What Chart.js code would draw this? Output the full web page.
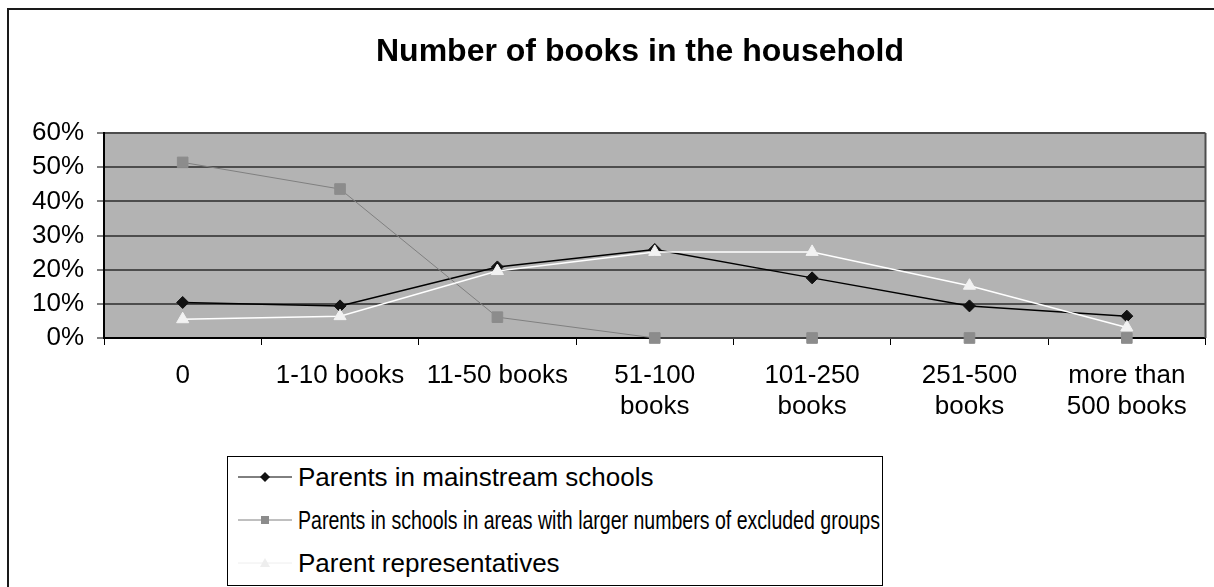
<!DOCTYPE html>
<html>
<head>
<meta charset="utf-8">
<title>Number of books in the household</title>
<script src="https://cdn.jsdelivr.net/npm/chart.js@4.4.0/dist/chart.umd.min.js"></script>
<style>
    html, body { margin: 0; padding: 0; background: #fff; overflow: hidden; }
    #wrap { position: relative; width: 1214px; height: 587px; overflow: hidden; }
    #frame { position: absolute; left: 7px; top: 8px; width: 1500px; height: 800px; border: 2px solid #1a1a1a; }
    #chart { position: absolute; left: 0; top: 0; }
    #legend {
        position: absolute; left: 227px; top: 456px; width: 656px; height: 130px;
        box-sizing: border-box; border: 1px solid #000; background: #fff;
        font: 26px "Liberation Sans", Arial, sans-serif; color: #000;
    }
    .legend-row { position: absolute; left: 10px; height: 30px; display: flex; align-items: center; white-space: nowrap; }
    .legend-row svg { margin-right: 4px; flex: none; }
    .legend-row span { display: inline-block; transform-origin: left center; }
</style>
</head>
<body>
<div id="wrap">
    <div id="frame"></div>
    <canvas id="chart" width="1214" height="587"></canvas>
    <div id="legend"></div>
</div>
<script>
// Data (percent of respondents)
const categories = [
    ['0'],
    ['1-10 books'],
    ['11-50 books'],
    ['51-100', 'books'],
    ['101-250', 'books'],
    ['251-500', 'books'],
    ['more than', '500 books']
];
const seriesNames = [
    'Parents in mainstream schools',
    'Parents in schools in areas with larger numbers of excluded groups',
    'Parent representatives'
];
const mainstreamValues = [10.4, 9.4, 20.8, 25.9, 17.6, 9.4, 6.4];
const excludedAreasValues = [51.4, 43.6, 6.1, 0, 0, 0, 0];
const representativeValues = [5.5, 6.4, 19.6, 25.2, 25.2, 15.3, 3.1];
const yTickMin = 0;
const yTickMax = 60;
const yTickStep = 10;

const FONT_FAMILY = '"Liberation Sans", Arial, sans-serif';

/**
 * Grey plot background and the right-hand frame line of the plot area
 */
const plotArea = {
    id: 'plotArea',
    beforeDraw(chart) {
        const { ctx, chartArea: a } = chart;
        ctx.save();
        ctx.fillStyle = '#b3b3b3';
        ctx.fillRect(a.left, a.top, a.width, a.height);
        ctx.restore();
    },
    beforeDatasetsDraw(chart) {
        const { ctx, chartArea: a } = chart;
        ctx.save();
        ctx.strokeStyle = '#4d4d4d';
        ctx.lineWidth = 2;
        ctx.beginPath();
        ctx.moveTo(a.right, a.top);
        ctx.lineTo(a.right, a.bottom);
        ctx.stroke();
        ctx.restore();
    }
};

/**
 * Chart title, placed where the original puts it
 */
const chartTitle = {
    id: 'chartTitle',
    afterDraw(chart) {
        const ctx = chart.ctx;
        ctx.save();
        ctx.font = 'bold 32px ' + FONT_FAMILY;
        ctx.fillStyle = '#000';
        ctx.textAlign = 'center';
        ctx.textBaseline = 'alphabetic';
        ctx.fillText('Number of books in the household', 640, 61);
        ctx.restore();
    }
};

const datasets = [
    {
        label: seriesNames[0],
        data: mainstreamValues,
        borderColor: '#000',
        borderWidth: 1.5,
        pointStyle: 'rectRot',
        pointRadius: 6,
        pointBackgroundColor: '#111',
        pointBorderColor: '#111',
        pointBorderWidth: 1,
        order: 3,
        clip: false
    },
    {
        label: seriesNames[1],
        data: excludedAreasValues,
        borderColor: '#808080',
        borderWidth: 1,
        pointStyle: 'rect',
        pointRadius: 7.5,
        pointBackgroundColor: '#8c8c8c',
        pointBorderColor: '#8c8c8c',
        pointBorderWidth: 1,
        order: 2,
        clip: false
    },
    {
        label: seriesNames[2],
        data: representativeValues,
        borderColor: '#fff',
        borderWidth: 1.5,
        pointStyle: 'triangle',
        pointRadius: 7,
        pointBackgroundColor: '#f2f2f2',
        pointBorderColor: '#f2f2f2',
        pointBorderWidth: 1,
        order: 1,
        clip: false
    }
];

const tickFont = { family: FONT_FAMILY, size: 26, lineHeight: 1.2 };

new Chart(document.getElementById('chart'), {
    type: 'line',
    data: { labels: categories, datasets: datasets },
    options: {
        responsive: false,
        animation: false,
        layout: { padding: { top: 133, right: 7, bottom: 0, left: 0 } },
        elements: { line: { tension: 0 } },
        plugins: {
            legend: { display: false },
            tooltip: { enabled: false }
        },
        scales: {
            x: {
                offset: true,
                grid: {
                    offset: true,
                    drawOnChartArea: false,
                    tickLength: 7,
                    tickColor: '#000',
                    tickWidth: 1
                },
                border: { color: '#000', width: 2 },
                ticks: {
                    autoSkip: false,
                    maxRotation: 0,
                    padding: 15,
                    color: '#000',
                    font: tickFont
                },
                afterFit(scale) { scale.height = 249; }
            },
            y: {
                min: yTickMin,
                max: yTickMax,
                grid: {
                    color: '#4d4d4d',
                    lineWidth: 2,
                    tickLength: 7,
                    tickColor: '#000',
                    tickWidth: 1
                },
                border: { color: '#000', width: 2 },
                ticks: {
                    stepSize: yTickStep,
                    autoSkip: false,
                    padding: 13,
                    color: '#000',
                    font: tickFont,
                    callback: v => v + '%'
                },
                afterFit(scale) { scale.width = 104; }
            }
        }
    },
    plugins: [plotArea, chartTitle]
});

// Legend: line sample with marker, then the series name
function legendSample(ds) {
    let marker = '';
    const c = ds.pointBackgroundColor;
    if (ds.pointStyle === 'rectRot') {
        marker = `<polygon points="27,10 32,15 27,20 22,15" fill="${c}"/>`;
    } else if (ds.pointStyle === 'rect') {
        marker = `<rect x="23" y="11" width="8" height="8" fill="${c}"/>`;
    } else {
        marker = `<polygon points="27,10 32,19 22,19" fill="#eeeeee"/>`;
    }
    const lineColor = ds.borderColor === '#fff' ? '#eeeeee' : ds.borderColor;
    return `<svg width="56" height="30"><line x1="0" y1="15" x2="54" y2="15" stroke="${lineColor}" stroke-width="1"/>${marker}</svg>`;
}

const legendEl = document.getElementById('legend');
const rowTops = [5, 48, 91];
const maxTextWidth = 582; // long names are squeezed to fit the box, as in the original
datasets.forEach((ds, i) => {
    const row = document.createElement('div');
    row.className = 'legend-row';
    row.style.top = rowTops[i] + 'px';
    row.innerHTML = legendSample(ds) + `<span>${ds.label}</span>`;
    legendEl.appendChild(row);
    const span = row.querySelector('span');
    const w = span.getBoundingClientRect().width;
    if (w > maxTextWidth) {
        span.style.transform = `scaleX(${maxTextWidth / w})`;
    }
});
</script>
</body>
</html>
